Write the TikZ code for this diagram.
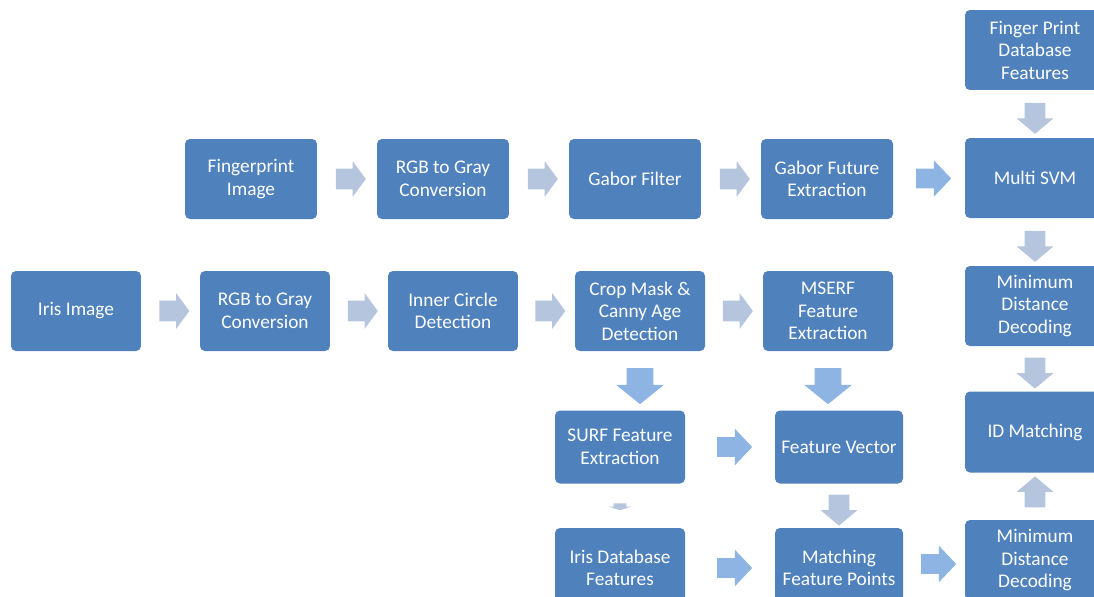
\documentclass[tikz,border=0pt]{standalone}
\usepackage{fontspec}
\setmainfont{Carlito}
\usetikzlibrary{shapes.arrows,positioning,calc}
\definecolor{boxfill}{RGB}{79,129,189}
\definecolor{grayarrow}{RGB}{182,197,222}
\definecolor{bluearrow}{RGB}{141,180,226}

\begin{document}
\begin{tikzpicture}[
  x=0.02cm, y=-0.02cm,
  font=\fontsize{11}{12.8}\selectfont,
  box/.style={
    fill=boxfill,
    draw=none,
    rounded corners=2.8pt,
    text=white,
    align=center,
    minimum width=2.6cm,
    minimum height=1.6cm,
    inner sep=2pt
  },
  sidebox/.style={box, minimum width=2.8cm},
  lowbox/.style={box, minimum height=1.46cm},
  blk/.style={
    shape=single arrow,
    draw=none,
    inner xsep=0pt,
    outer sep=0pt,
    minimum width=1pt
  },
  grayh/.style={blk, fill=grayarrow, inner ysep=0.2cm, single arrow head extend=0.15cm,
    minimum height=0.6cm, single arrow tip angle=107},
  blueh/.style={blk, fill=bluearrow, inner ysep=0.19cm, single arrow head extend=0.17cm,
    minimum height=0.7cm, single arrow tip angle=93},
  bigdown/.style={blk, fill=bluearrow, rotate=-90, inner ysep=0.26cm, single arrow head extend=0.21cm,
    minimum height=0.72cm, single arrow tip angle=102},
  grayv/.style={blk, fill=grayarrow, inner ysep=0.2cm, single arrow head extend=0.16cm,
    minimum height=0.62cm, single arrow tip angle=100},
  tiny/.style={blk, fill=grayarrow, rotate=-90, inner ysep=0.12cm, single arrow head extend=0.09cm,
    minimum height=0.14cm, single arrow tip angle=143}
]
\useasboundingbox (0,0) rectangle (1094,596);

% ========== Fingerprint branch (top) ==========
\node[sidebox] (fpdb) at (1035,50) {Finger Print\\Database\\Features};
\node[box, minimum width=2.64cm] (fpimg) at (251,179) {Fingerprint\\Image};
\node[box, minimum width=2.64cm] (rgbA) at (443,179) {RGB to Gray\\Conversion};
\node[box, minimum width=2.64cm] (gabor) at (635,179) {Gabor Filter};
\node[box, minimum width=2.64cm] (gaborfut) at (827,179) {Gabor Future\\Extraction};
\node[sidebox] (svm) at (1035,178) {Multi SVM};

% ========== Iris branch (middle) ==========
\node[box] (iris) at (76,311) {Iris Image};
\node[box] (rgbB) at (265,311) {RGB to Gray\\Conversion};
\node[box] (inner) at (453,311) {Inner Circle\\Detection};
\node[box] (crop) at (640,311) {Crop Mask \&\\Canny Age\\Detection};
\node[box] (mserf) at (828,311) {MSERF\\Feature\\Extraction};
\node[sidebox] (mindA) at (1035,306) {Minimum\\Distance\\Decoding};

% ========== Matching (bottom) ==========
\node[lowbox] (surf) at (620,447) {SURF Feature\\Extraction};
\node[lowbox, minimum width=2.56cm] (fvec) at (839,447) {Feature Vector};
\node[sidebox, minimum height=1.62cm] (idm) at (1035,432) {ID Matching};
\node[box] (irisdb) at (620,568) {Iris Database\\Features};
\node[box, minimum width=2.56cm] (match) at (839,568) {Matching\\Feature Points};
\node[sidebox] (mindB) at (1035,560) {Minimum\\Distance\\Decoding};

% Fingerprint flow
\node[grayh] (a-fp-rgb) at ($(fpimg.east)!0.5!(rgbA.west)$) {};
\node[grayh] (a-rgb-gab) at ($(rgbA.east)!0.5!(gabor.west)$) {};
\node[grayh] (a-gab-fut) at ($(gabor.east)!0.5!(gaborfut.west)$) {};
\node[blueh] (a-fut-svm) at ($(gaborfut.east)!0.5!(svm.west)$) {};
\node[grayv, rotate=-90] (a-db-svm) at ($(fpdb.south)!0.5!(svm.north)$) {};
\node[grayv, rotate=-90] (a-svm-min) at ($(svm.south)!0.5!(mindA.north)$) {};
\node[grayv, rotate=-90] (a-min-id) at ($(mindA.south)!0.5!(idm.north)$) {};

% Iris flow
\node[grayh] (a-iris-rgb) at ($(iris.east)!0.5!(rgbB.west)$) {};
\node[grayh] (a-rgb-inner) at ($(rgbB.east)!0.5!(inner.west)$) {};
\node[grayh] (a-inner-crop) at ($(inner.east)!0.5!(crop.west)$) {};
\node[grayh] (a-crop-mserf) at ($(crop.east)!0.5!(mserf.west)$) {};
\node[bigdown] (a-crop-surf) at ($(crop.south)!0.5!(crop.south |- surf.north)$) {};
\node[bigdown] (a-mserf-fv) at ($(mserf.south)!0.5!(mserf.south |- fvec.north)$) {};
\node[blueh] (a-surf-fv) at ($(surf.east)!0.5!(fvec.west)$) {};
\node[tiny] (a-surf-db) at ($(surf.south)!0.5!(irisdb.north)$) {};
\node[grayv, rotate=-90] (a-fv-match) at ($(fvec.south)!0.5!(match.north)$) {};
\node[blueh] (a-db-match) at ($(irisdb.east)!0.5!(match.west)$) {};
\node[blueh] (a-match-min) at ($(match.east)!0.5!(mindB.west)$) {};
\node[grayv, rotate=90] (a-min-id2) at ($(mindB.north)!0.5!(idm.south)$) {};

\end{tikzpicture}
\end{document}
